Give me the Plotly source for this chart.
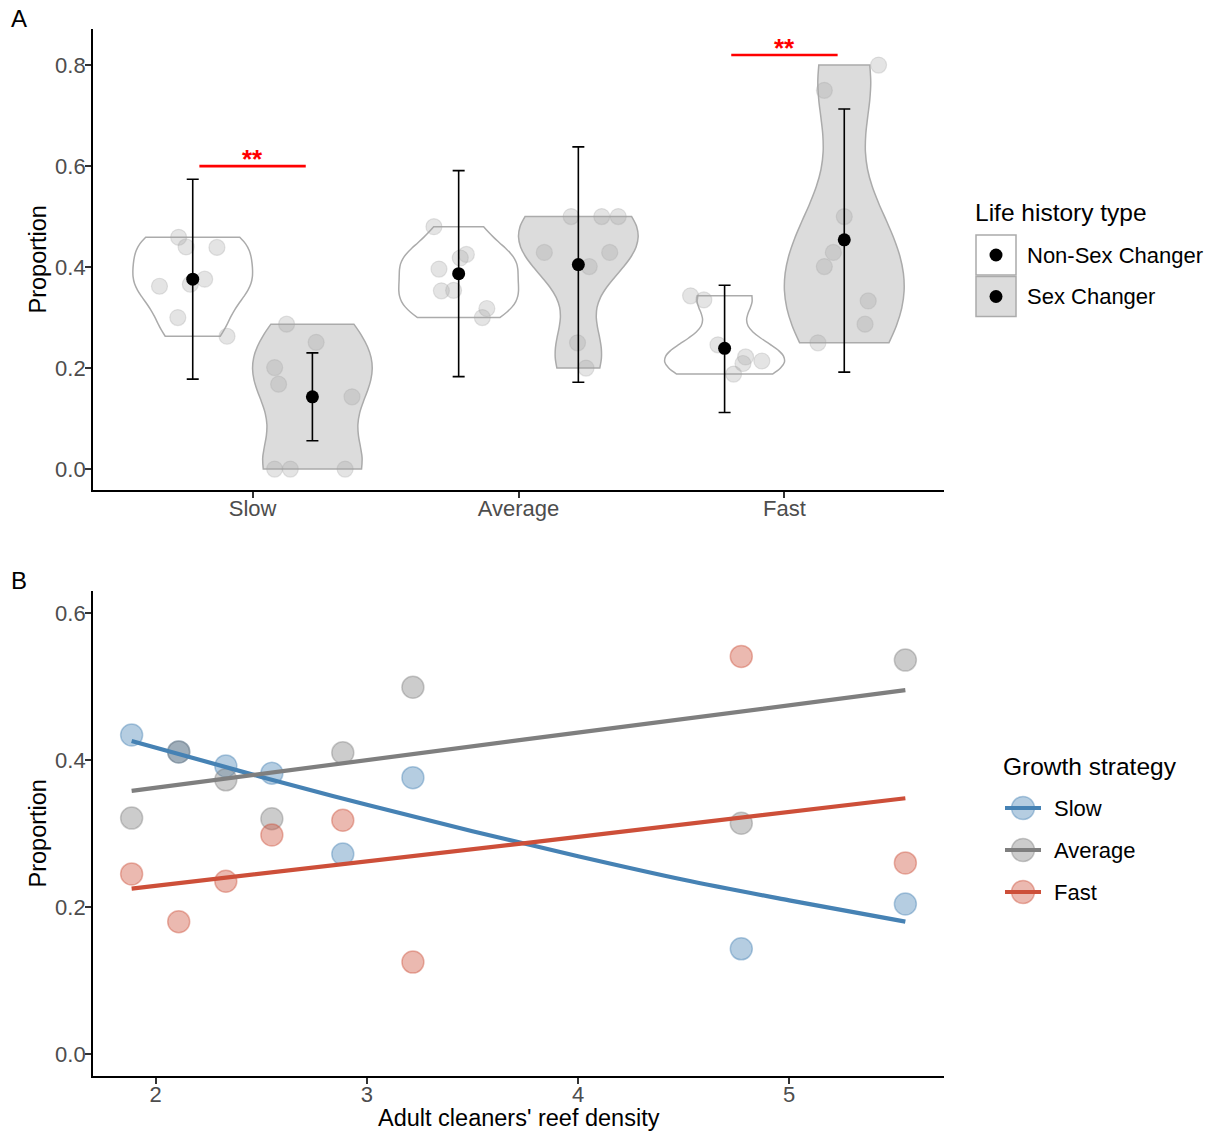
import numpy as np
import plotly.graph_objects as go

W, H = 1215, 1133
FONT = "Liberation Sans, Arial, sans-serif"

# ---------------- Panel A: proportion by growth strategy and life history type
strategies = ["Slow", "Average", "Fast"]
life_types = ["Non-Sex Changer", "Sex Changer"]

slow_nsc = [0.459, 0.440, 0.439, 0.376, 0.366, 0.362, 0.300, 0.263]
slow_sc = [0.287, 0.251, 0.201, 0.168, 0.143, 0.0, 0.0, 0.0]
avg_nsc = [0.480, 0.425, 0.418, 0.396, 0.353, 0.354, 0.318, 0.300]
avg_sc = [0.500, 0.500, 0.500, 0.429, 0.429, 0.401, 0.250, 0.200]
fast_nsc = [0.343, 0.335, 0.246, 0.222, 0.214, 0.209, 0.188]
fast_sc = [0.800, 0.750, 0.500, 0.429, 0.401, 0.333, 0.287, 0.250]

# horizontal jitter of the raw points, in category units
jit_slow_nsc = [-0.053, -0.025, 0.091, 0.045, -0.009, -0.125, -0.056, 0.129]
jit_slow_sc = [-0.097, 0.014, -0.142, -0.127, 0.149, -0.142, -0.083, 0.123]
jit_avg_nsc = [-0.093, 0.029, 0.006, -0.074, -0.065, -0.019, 0.106, 0.089]
jit_avg_sc = [-0.027, 0.088, 0.150, -0.128, 0.118, 0.041, -0.003, 0.029]
jit_fast_nsc = [-0.128, -0.078, -0.025, 0.079, 0.140, 0.069, 0.034]
jit_fast_sc = [0.129, -0.075, 0.000, -0.041, -0.075, 0.090, 0.078, -0.099]

# estimated means with interval limits
mean_nsc = [0.376, 0.387, 0.239]
lo_nsc = [0.178, 0.183, 0.112]
hi_nsc = [0.574, 0.591, 0.364]
mean_sc = [0.143, 0.405, 0.454]
lo_sc = [0.056, 0.172, 0.192]
hi_sc = [0.230, 0.638, 0.713]

# significance brackets
sig_x0 = [0.8, 2.8]
sig_x1 = [1.2, 3.2]
sig_y = [0.60, 0.82]
sig_label = ["**", "**"]

# ---------------- Panel B: proportion vs adult cleaner reef density
growth = ["Slow", "Average", "Fast"]
density = [1.886, 2.109, 2.332, 2.550, 2.886, 3.218, 4.773, 5.550]
prop_slow = [0.434, 0.411, 0.392, 0.382, 0.272, 0.376, 0.143, 0.204]
prop_avg = [0.321, 0.411, 0.373, 0.320, 0.410, 0.499, 0.314, 0.536]
prop_fast = [0.245, 0.180, 0.235, 0.298, 0.318, 0.125, 0.541, 0.260]

# fitted trends
fit_x_slow = [1.886, 2.5, 3.0, 3.5, 4.0, 4.5, 5.0, 5.55]
fit_slow = [0.426, 0.377, 0.339, 0.303, 0.269, 0.237, 0.209, 0.180]
fit_x_avg = [1.886, 3.75, 5.55]
fit_avg = [0.358, 0.428, 0.495]
fit_x_fast = [1.886, 3.75, 5.55]
fit_fast = [0.225, 0.287, 0.348]

# ---------------- helpers
def px(x):
    return x / W


def py(y):
    return 1 - y / H


def nrd0(v):
    v = np.asarray(v, dtype=float)
    sd = v.std(ddof=1)
    q1, q3 = np.percentile(v, [25, 75])
    lo = min(sd, (q3 - q1) / 1.34)
    if lo <= 0:
        lo = sd if sd > 0 else 1.0
    return 0.9 * lo * len(v) ** -0.2


DODGE = 0.225
VIOLIN_W = 0.45
VIOLIN_LINE = "#ABABAB"
FILL = {"Non-Sex Changer": "#FFFFFF", "Sex Changer": "#DCDCDC"}

fig = go.Figure()

groups_a = [
    (0, "Non-Sex Changer", slow_nsc, jit_slow_nsc),
    (0, "Sex Changer", slow_sc, jit_slow_sc),
    (1, "Non-Sex Changer", avg_nsc, jit_avg_nsc),
    (1, "Sex Changer", avg_sc, jit_avg_sc),
    (2, "Non-Sex Changer", fast_nsc, jit_fast_nsc),
    (2, "Sex Changer", fast_sc, jit_fast_sc),
]

for ci, lt, vals, jit in groups_a:
    pos = ci + 1 + (-DODGE if lt == "Non-Sex Changer" else DODGE)
    fig.add_trace(go.Violin(
        x=[pos] * len(vals), y=vals, width=VIOLIN_W, spanmode="hard",
        bandwidth=nrd0(vals), scalemode="width", points=False,
        fillcolor=FILL[lt], line=dict(color=VIOLIN_LINE, width=1.5),
        hoverinfo="skip", showlegend=False, xaxis="x", yaxis="y",
    ))

for ci, lt, vals, jit in groups_a:
    pos = ci + 1 + (-DODGE if lt == "Non-Sex Changer" else DODGE)
    fig.add_trace(go.Scatter(
        x=[pos + j for j in jit], y=vals, mode="markers",
        marker=dict(size=16, color="rgba(165,165,165,0.3)",
                    line=dict(color="rgba(165,165,165,0.3)", width=1.2)),
        hoverinfo="skip", showlegend=False, xaxis="x", yaxis="y",
    ))

for lt, m, lo, hi, off in [("Non-Sex Changer", mean_nsc, lo_nsc, hi_nsc, -DODGE),
                           ("Sex Changer", mean_sc, lo_sc, hi_sc, DODGE)]:
    xs = [i + 1 + off for i in range(len(strategies))]
    fig.add_trace(go.Scatter(
        x=xs, y=m, mode="markers", name=lt,
        marker=dict(size=13, color="black"),
        error_y=dict(type="data", symmetric=False,
                     array=[h - v for h, v in zip(hi, m)],
                     arrayminus=[v - l for l, v in zip(lo, m)],
                     color="black", thickness=1.6, width=6),
        showlegend=False, xaxis="x", yaxis="y",
    ))

for x0, x1, y, lab in zip(sig_x0, sig_x1, sig_y, sig_label):
    fig.add_shape(type="line", xref="x", yref="y", x0=x0, x1=x1, y0=y, y1=y,
                  line=dict(color="#FF0000", width=2.6))
    fig.add_annotation(xref="x", yref="y", x=(x0 + x1) / 2, y=y, text=f"<b>{lab}</b>",
                       showarrow=False, yanchor="middle", yshift=7,
                       font=dict(family=FONT, size=26, color="#FF0000"))

# ---------------- Panel B traces
COL = {"Slow": (70, 130, 180), "Average": (127, 127, 127), "Fast": (205, 79, 57)}


def rgba(c, a):
    return f"rgba({c[0]},{c[1]},{c[2]},{a})"


for g, vals in zip(growth, [prop_slow, prop_avg, prop_fast]):
    c = COL[g]
    fig.add_trace(go.Scatter(
        x=density, y=vals, mode="markers", name=g,
        marker=dict(size=22, color=rgba(c, 0.4), line=dict(color=rgba(c, 0.4), width=1.5)),
        showlegend=False, xaxis="x2", yaxis="y2",
    ))

for g, fx, fy in zip(growth, [fit_x_slow, fit_x_avg, fit_x_fast], [fit_slow, fit_avg, fit_fast]):
    c = COL[g]
    fig.add_trace(go.Scatter(
        x=fx, y=fy, mode="lines", line=dict(color=rgba(c, 1), width=4.2, shape="spline"),
        showlegend=False, hoverinfo="skip", xaxis="x2", yaxis="y2",
    ))

# ---------------- axes
axis_common = dict(
    showline=True, linecolor="black", linewidth=1.8, ticks="outside", ticklen=6,
    tickwidth=1.6, tickcolor="#333333", showgrid=False, zeroline=False,
    tickfont=dict(family=FONT, size=22, color="#4D4D4D"),
)
x_extra = dict(ticklabelstandoff=-8)
y_extra = dict(ticklabelstandoff=-5)

fig.update_layout(
    width=W, height=H, margin=dict(l=0, r=0, t=0, b=0),
    paper_bgcolor="white", plot_bgcolor="white", showlegend=False,
    violinmode="overlay",
    xaxis=dict(domain=[px(93), px(944)], range=[0.4, 3.6], anchor="y",
               tickvals=[1, 2, 3], ticktext=strategies, **axis_common, **x_extra),
    yaxis=dict(domain=[py(490), py(29)], range=[-0.0415, 0.8715], anchor="x",
               tickvals=[0, 0.2, 0.4, 0.6, 0.8], tickformat=".1f", **axis_common, **y_extra),
    xaxis2=dict(domain=[px(93), px(944)], range=[1.703, 5.733], anchor="y2",
                tickvals=[2, 3, 4, 5], **axis_common, **x_extra),
    yaxis2=dict(domain=[py(1076), py(591)], range=[-0.03, 0.63], anchor="x2",
                tickvals=[0, 0.2, 0.4, 0.6], tickformat=".1f", **axis_common, **y_extra),
)

# ---------------- titles and panel tags
def text(x, y, s, size, color="black", xanchor="center", angle=0):
    fig.add_annotation(xref="paper", yref="paper", x=px(x), y=py(y), text=s,
                       showarrow=False, xanchor=xanchor, yanchor="middle",
                       textangle=angle, font=dict(family=FONT, size=size, color=color))


text(19, 18, "A", 24)
text(19, 580, "B", 24)
text(37, 259.5, "Proportion", 23.5, angle=-90)
text(37, 833.5, "Proportion", 23.5, angle=-90)
text(518.5, 1118, "Adult cleaners' reef density", 23.5)

# legend for life history type
text(973, 213, "Life history type", 24.5, xanchor="left")
for yc, lt in zip([255, 296.5], life_types):
    fig.add_shape(type="rect", xref="paper", yref="paper",
                  x0=px(976), x1=px(1016), y0=py(yc + 20), y1=py(yc - 20),
                  fillcolor=FILL[lt], line=dict(color=VIOLIN_LINE, width=1.5))
    fig.add_shape(type="circle", xref="paper", yref="paper",
                  x0=px(996 - 6.5), x1=px(996 + 6.5), y0=py(yc + 6.5), y1=py(yc - 6.5),
                  fillcolor="black", line=dict(color="black", width=0))
    text(1025, yc, lt, 22, xanchor="left")

# legend for growth strategy
text(1001, 766, "Growth strategy", 24.5, xanchor="left")
for yc, g in zip([808, 850, 892], growth):
    c = COL[g]
    fig.add_shape(type="circle", xref="paper", yref="paper",
                  x0=px(1023 - 11.5), x1=px(1023 + 11.5), y0=py(yc + 11.5), y1=py(yc - 11.5),
                  fillcolor=rgba(c, 0.4), line=dict(color=rgba(c, 0.4), width=1.5))
    fig.add_shape(type="line", xref="paper", yref="paper",
                  x0=px(1005), x1=px(1041), y0=py(yc), y1=py(yc),
                  line=dict(color=rgba(c, 1), width=4.2))
    text(1052, yc, g, 22, xanchor="left")

fig.write_html("out.html")
